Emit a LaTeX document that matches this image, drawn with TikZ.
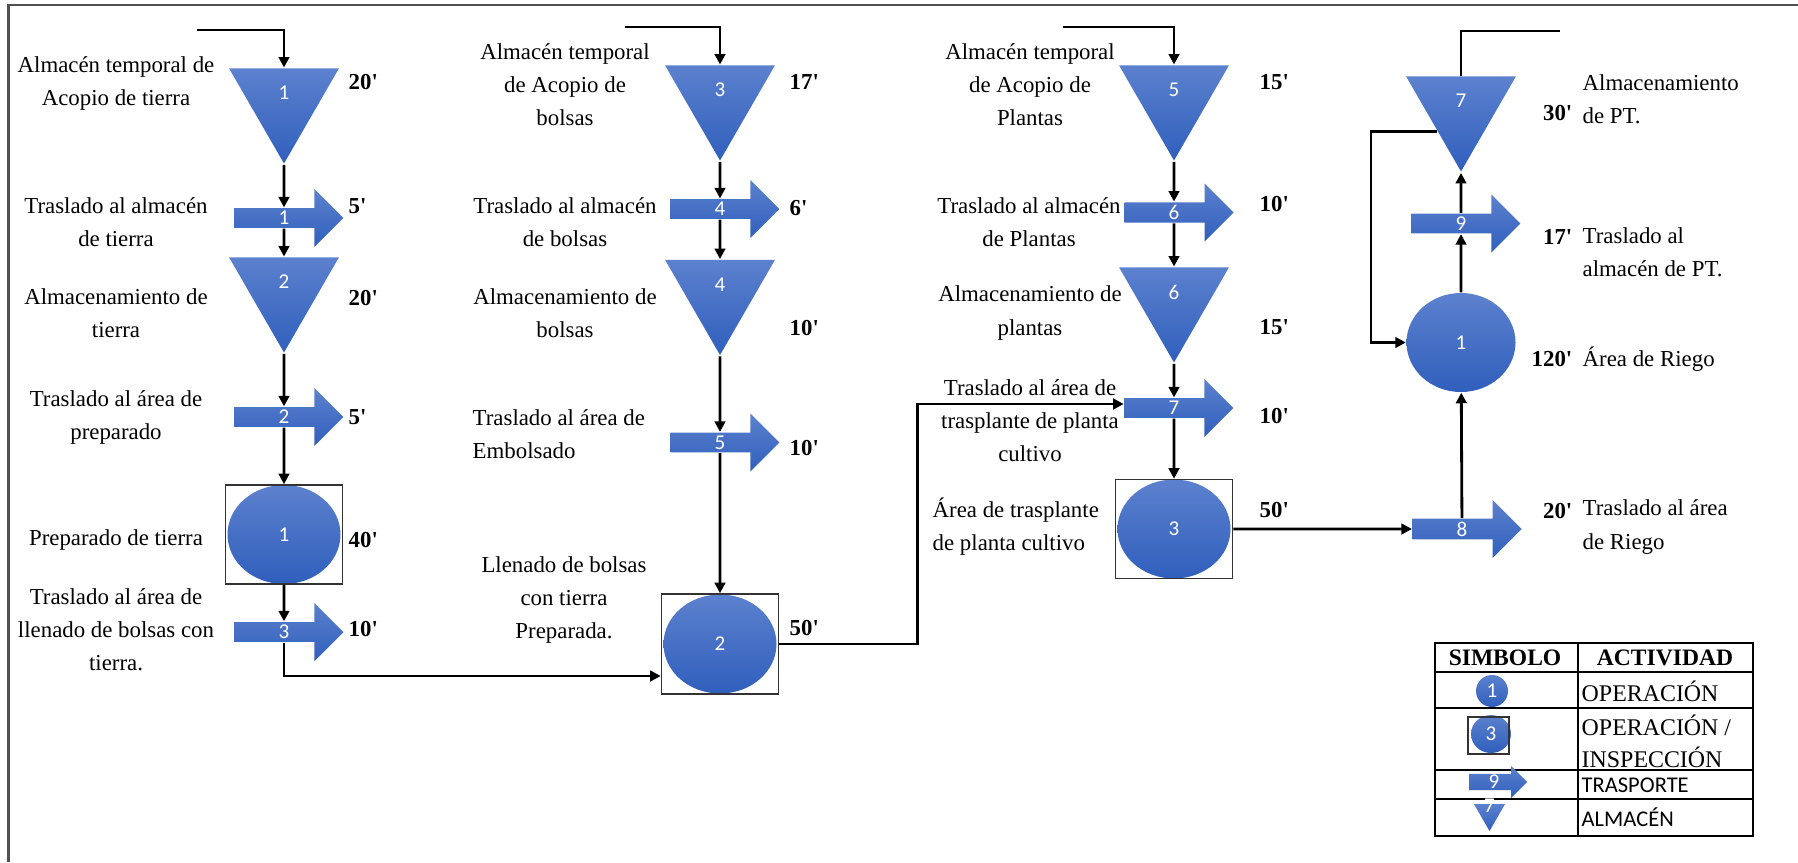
\documentclass[tikz,border=0pt]{standalone}
\usepackage{fontspec}
\setmainfont{Liberation Serif}
\newfontfamily\numfont{Carlito}
\usetikzlibrary{shapes.geometric,shapes.arrows,arrows.meta}
\definecolor{blueA}{RGB}{92,129,206}
\definecolor{blueB}{RGB}{48,95,188}
\definecolor{framegray}{RGB}{80,80,80}
\newcommand{\lbltxt}{\rmfamily\fontsize{6.5}{9.4}\selectfont}
\newcommand{\numtxt}{\numfont\fontsize{6}{7}\selectfont}
\newcommand{\tmin}[1]{#1\textquotesingle}

\begin{document}
\begin{tikzpicture}[
  numlbl/.style={text=white, font=\numtxt, yshift=0.07cm},
  store/.style={regular polygon, regular polygon sides=3, shape border rotate=180,
    minimum size=1.27cm, inner sep=0pt, top color=blueA, bottom color=blueB,
    label={[numlbl]center:#1}},
  trans/.style={single arrow, single arrow head extend=0.145cm, minimum height=1.09cm,
    minimum width=0.58cm, inner sep=0pt, top color=blueA, bottom color=blueB,
    text=white, font=\numtxt},
  oper/.style={ellipse, minimum width=1.13cm, minimum height=0.99cm, inner sep=0pt,
    top color=blueA, bottom color=blueB, text=white, font=\numtxt},
  opbox/.style={rectangle, draw=black!80, line width=0.45pt, minimum width=1.17cm, minimum height=0.99cm},
  lbl/.style={align=center, font=\lbltxt},
  lbll/.style={align=left, font=\lbltxt, anchor=west, inner xsep=0pt},
  time/.style={font=\lbltxt\bfseries, anchor=west, inner xsep=0pt},
  flow/.style={line width=0.8pt, -{Triangle[length=3pt,width=3pt]}}]

\useasboundingbox (0,0) rectangle (17.98,8.62);
\draw[framegray, line width=0.6pt] (0.085,0) -- (0.085,8.57) -- (17.98,8.57);

% tierra
\coordinate (in1) at (1.97,8.32);
\draw (2.84,7.62) node[store=1] (t1) {}
      (2.84,6.44) node[trans] (a1) {1}
      (2.84,5.73) node[store=2] (t2) {}
      (2.84,4.45) node[trans] (a2) {2}
      (2.84,3.275) node[oper] (o1) {1}
      (2.84,2.30) node[trans] (a3) {3};
\node[opbox] (b1) at (o1) {};
\draw (1.16,7.785) node[lbl] (l1) {Almacén temporal de\\Acopio de tierra}
      (1.16,6.40) node[lbl] (l2) {Traslado al almacén\\de tierra}
      (1.16,5.49) node[lbl] (l3) {Almacenamiento de\\tierra}
      (1.16,4.445) node[lbl] (l4) {Traslado al área de\\preparado}
      (1.16,3.22) node[lbl] (l5) {Preparado de tierra}
      (1.16,2.32) node[lbl] (l6) {Traslado al área de\\llenado de bolsas con\\tierra.};
\draw (3.48,7.80) node[time] (m1) {\tmin{20}} (3.48,6.56) node[time] (m2) {\tmin{5}}
      (3.48,5.64) node[time] (m3) {\tmin{20}} (3.48,4.45) node[time] (m4) {\tmin{5}}
      (3.48,3.22) node[time] (m5) {\tmin{40}} (3.48,2.33) node[time] (m6) {\tmin{10}};

% bolsas
\coordinate (in2) at (6.25,8.35);
\draw (7.20,7.65) node[store=3] (t3) {}
      (7.20,6.53) node[trans] (a4) {4}
      (7.20,5.705) node[store=4] (t4) {}
      (7.20,4.195) node[trans] (a5) {5}
      (7.20,2.18) node[oper] (o2) {2};
\node[opbox, minimum height=1.0cm] (b2) at (o2) {};
\draw (5.65,7.77) node[lbl] (l7) {Almacén temporal\\de Acopio de\\bolsas}
      (5.65,6.40) node[lbl] (l8) {Traslado al almacén\\de bolsas}
      (5.65,5.49) node[lbl] (l9) {Almacenamiento de\\bolsas}
      (4.72,4.28) node[lbll] (l10) {Traslado al área de\\Embolsado}
      (5.64,2.62) node[lbl] (l11) {Llenado de bolsas\\con tierra\\Preparada.};
\draw (7.89,7.80) node[time] (m7) {\tmin{17}} (7.89,6.54) node[time] (m8) {\tmin{6}}
      (7.89,5.34) node[time] (m9) {\tmin{10}} (7.89,4.14) node[time] (m10) {\tmin{10}}
      (7.89,2.34) node[time] (m11) {\tmin{50}};

% plantas
\coordinate (in3) at (10.63,8.35);
\draw (11.74,7.65) node[store=5] (t5) {}
      (11.74,6.495) node[trans] (a6) {6}
      (11.74,5.63) node[store=6] (t6) {}
      (11.74,4.54) node[trans] (a7) {7}
      (11.74,3.33) node[oper] (o3) {3};
\node[opbox] (b3) at (o3) {};
\draw (10.30,7.77) node[lbl] (l12) {Almacén temporal\\de Acopio de\\Plantas}
      (10.29,6.40) node[lbl] (l13) {Traslado al almacén\\de Plantas}
      (10.30,5.49) node[lbl] (l14) {Almacenamiento de\\plantas}
      (10.30,4.41) node[lbl] (l15) {Traslado al área de\\trasplante de planta\\cultivo}
      (9.32,3.35) node[lbll] (l16) {Área de trasplante\\de planta cultivo};
\draw (12.59,7.80) node[time] (m12) {\tmin{15}} (12.59,6.58) node[time] (m13) {\tmin{10}}
      (12.59,5.35) node[time] (m14) {\tmin{15}} (12.59,4.46) node[time] (m15) {\tmin{10}}
      (12.59,3.52) node[time] (m16) {\tmin{50}};

% riego y PT
\coordinate (out) at (15.60,8.31);
\draw (14.61,7.54) node[store=7] (t7) {}
      (14.61,6.385) node[trans] (a9) {9}
      (14.61,5.195) node[oper, minimum width=1.09cm] (c1) {1}
      (14.62,3.33) node[trans] (a8) {8};
\draw (15.82,7.63) node[lbll] (l17) {Almacenamiento\\de PT.}
      (15.82,6.095) node[lbll] (l18) {Traslado al\\almacén de PT.}
      (15.82,5.03) node[lbll] (l19) {Área de Riego}
      (15.82,3.35) node[lbll] (l20) {Traslado al área\\de Riego};
\draw (15.73,7.49) node[time, anchor=east] (m17) {\tmin{30}}
      (15.73,6.25) node[time, anchor=east] (m18) {\tmin{17}}
      (15.73,5.03) node[time, anchor=east] (m19) {\tmin{120}}
      (15.73,3.51) node[time, anchor=east] (m20) {\tmin{20}};

% connectors
\draw[flow] (in1) -| (t1);
\draw[flow] (t1) -- (a1);
\draw[flow] (a1) -- (t2);
\draw[flow] (t2) -- (a2);
\draw[flow] (a2) -- (b1);
\draw[flow] (b1) -- (a3);
\draw[flow] (a3) |- ([yshift=-0.32cm]b2.west);
\draw[flow] (in2) -| (t3);
\draw[flow] (t3) -- (a4);
\draw[flow] (a4) -- (t4);
\draw[flow] (t4) -- (a5);
\draw[flow] (a5) -- (b2);
\draw[flow] (b2.east) -- ++(1.38,0) |- ([yshift=0.04cm]a7.west);
\draw[flow] (in3) -| (t5);
\draw[flow] (t5) -- (a6);
\draw[flow] (a6) -- (t6);
\draw[flow] (t6) -- (a7);
\draw[flow] (a7) -- (b3);
\draw[flow] (b3) -- (a8);
\draw[flow] (a8) -- (c1);
\draw[flow] (c1) -- (a9);
\draw[flow] (a9) -- (t7);
\draw[line width=0.8pt] (t7.north) |- (out);
\draw[flow] (t7.225) -| (13.71,5.195) -- (c1);

% legend
\draw[line width=0.6pt] (14.35,0.26) rectangle (17.53,2.19)
      (15.78,0.26) -- (15.78,2.19)
      (14.35,1.90) -- (17.53,1.90) (14.35,1.54) -- (17.53,1.54)
      (14.35,0.92) -- (17.53,0.92) (14.35,0.63) -- (17.53,0.63);
\draw (15.05,2.045) node[font=\fontsize{6.7}{8}\selectfont\bfseries] (h1) {SIMBOLO}
      (16.65,2.045) node[font=\fontsize{6.7}{8}\selectfont\bfseries] (h2) {ACTIVIDAD};
\draw (14.92,1.71) node[oper, minimum width=0.32cm, minimum height=0.32cm] (s1) {1}
      (14.91,1.28) node[oper, minimum width=0.40cm, minimum height=0.38cm] (s2) {3}
      (14.94,0.80) node[trans, minimum height=0.58cm, minimum width=0.32cm,
                        single arrow head extend=0.075cm] (s3) {9}
      (14.895,0.49) node[store=7, minimum size=0.36cm] (s4) {};
\node[opbox, line width=0.6pt, minimum width=0.41cm, minimum height=0.37cm] (sb) at (14.885,1.265) {};
\draw (15.81,1.71) node[lbll, font=\fontsize{6.8}{9.1}\selectfont] (d1) {OPERACIÓN}
      (15.81,1.21) node[lbll, font=\fontsize{6.8}{9.1}\selectfont] (d2) {OPERACIÓN /\\INSPECCIÓN}
      (15.81,0.77) node[anchor=west, inner xsep=0pt, font=\numfont\fontsize{6.4}{8}\selectfont] (d3) {TRASPORTE}
      (15.81,0.45) node[anchor=west, inner xsep=0pt, font=\numfont\fontsize{6.4}{8}\selectfont] (d4) {ALMACÉN};
\end{tikzpicture}
\end{document}
